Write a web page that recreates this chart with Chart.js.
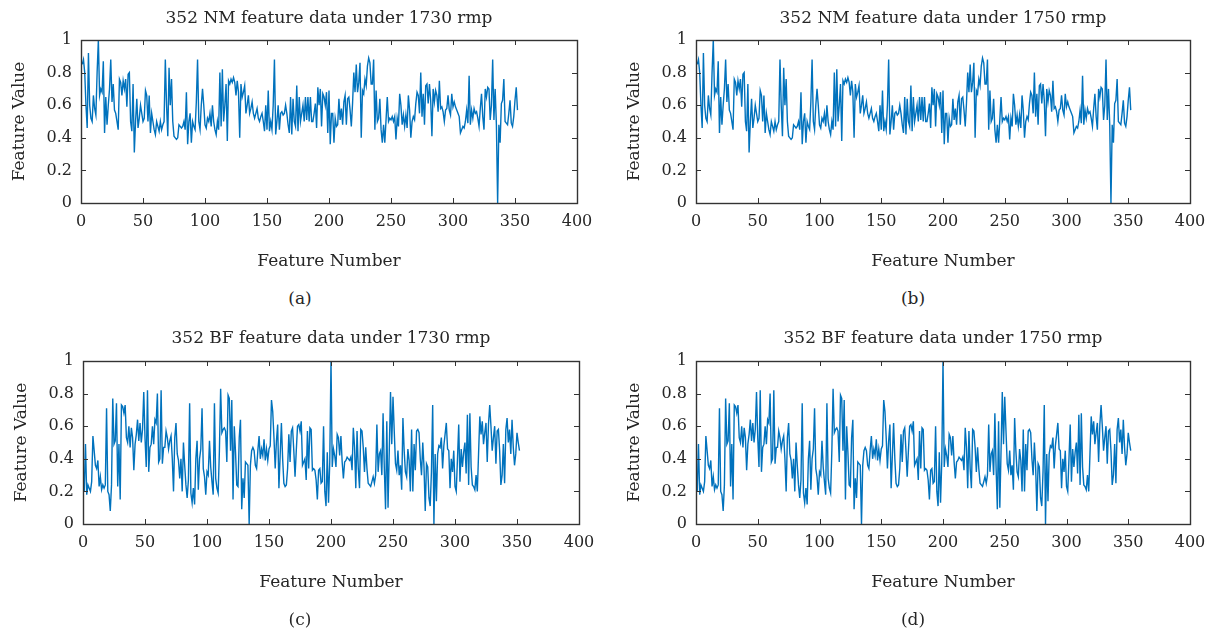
<!DOCTYPE html>
<html>
<head>
<meta charset="utf-8">
<script src="https://cdn.jsdelivr.net/npm/chart.js@4.4.1/dist/chart.umd.min.js"></script>
<style>
  body { margin: 0; background: #fff; }
  #wrap { position: relative; width: 1218px; height: 641px; }
  canvas { position: absolute; }
  .cap { position: absolute; width: 60px; margin-left: -30px; text-align: center;
         font-family: 'DejaVu Serif', serif; font-size: 17px; color: #262626; line-height: 20px; }
</style>
</head>
<body>
<div id="wrap">
  <canvas id="chartA" width="609" height="285" style="left:0;top:0"></canvas>
  <canvas id="chartB" width="609" height="285" style="left:609px;top:0"></canvas>
  <canvas id="chartC" width="609" height="290" style="left:0;top:320px"></canvas>
  <canvas id="chartD" width="609" height="290" style="left:609px;top:320px"></canvas>
  <div class="cap" style="left:300px;top:288px">(a)</div>
  <div class="cap" style="left:913px;top:288px">(b)</div>
  <div class="cap" style="left:300px;top:609px">(c)</div>
  <div class="cap" style="left:913px;top:609px">(d)</div>
</div>
<script>
// values, feature 1..352
var nm1730 = [
  0.85,0.88,0.8,0.6,0.46,0.92,0.6,0.52,0.5,0.66,
  0.58,0.54,0.8,1.0,0.66,0.7,0.68,0.87,0.43,0.65,
  0.48,0.6,0.7,0.88,0.62,0.73,0.57,0.55,0.5,0.45,
  0.76,0.74,0.66,0.75,0.7,0.76,0.59,0.79,0.8,0.5,
  0.44,0.73,0.31,0.5,0.64,0.46,0.52,0.6,0.55,0.5,
  0.52,0.69,0.66,0.5,0.66,0.43,0.55,0.5,0.45,0.42,
  0.5,0.47,0.44,0.5,0.45,0.48,0.5,0.88,0.6,0.41,
  0.83,0.6,0.76,0.5,0.41,0.4,0.39,0.4,0.48,0.47,
  0.46,0.47,0.5,0.45,0.68,0.36,0.5,0.55,0.37,0.5,
  0.47,0.45,0.62,0.88,0.5,0.45,0.6,0.7,0.6,0.48,
  0.46,0.52,0.5,0.55,0.47,0.6,0.5,0.45,0.42,0.5,
  0.45,0.8,0.47,0.82,0.5,0.6,0.73,0.38,0.75,0.73,
  0.76,0.74,0.77,0.74,0.66,0.75,0.68,0.4,0.73,0.65,
  0.68,0.72,0.55,0.6,0.66,0.55,0.58,0.62,0.55,0.52,
  0.55,0.58,0.52,0.5,0.53,0.55,0.5,0.44,0.6,0.45,
  0.69,0.44,0.5,0.45,0.6,0.88,0.42,0.5,0.6,0.45,
  0.55,0.56,0.54,0.55,0.6,0.55,0.48,0.43,0.65,0.42,
  0.64,0.5,0.47,0.72,0.44,0.65,0.5,0.55,0.6,0.5,
  0.65,
  0.51,0.65,0.5,0.65,0.5,0.5,0.55,0.61,0.46,0.71,
  0.6,0.7,0.47,0.67,0.65,0.6,0.68,0.43,0.69,0.36,
  0.55,0.55,0.37,0.52,0.47,0.48,0.64,0.51,0.58,0.48,
  0.62,0.66,0.48,0.64,0.65,0.57,0.47,0.61,0.8,0.68,
  0.85,0.68,0.74,0.86,0.4,0.69,0.67,0.76,0.72,0.84,
  0.89,0.86,0.73,0.73,0.88,0.45,0.69,0.5,0.52,0.64,
  0.45,0.37,0.48,0.37,0.51,0.65,0.5,0.52,0.51,0.53,
  0.5,0.53,0.39,0.52,0.47,0.67,0.6,0.48,0.54,0.47,
  0.54,0.46,0.66,0.57,0.4,0.5,0.53,0.51,0.61,0.68,
  0.66,0.55,
  0.8,0.53,0.67,0.48,0.72,0.73,0.61,0.73,0.63,0.41,
  0.7,0.62,0.69,0.66,0.56,0.75,0.58,0.59,0.56,0.5,
  0.57,0.58,0.66,0.57,0.54,0.67,0.59,0.62,0.59,0.57,
  0.55,0.53,0.43,0.45,0.47,0.46,0.5,0.57,0.49,0.78,
  0.48,0.57,0.52,0.58,0.55,0.56,0.52,0.47,0.58,0.67,
  0.53,0.45,0.7,0.65,0.71,0.7,0.51,0.6,0.88,0.51,
  0.7,0.48,0.0,0.48,0.37,0.61,0.63,0.76,0.5,0.49,
  0.48,0.55,0.63,0.49,0.47,0.53,0.63,0.71,0.57
];
// (b) looks the same as (a)
var nm1750 = nm1730.slice();

var bf1730 = [
  0.2,0.49,0.18,0.24,0.22,0.2,0.26,0.54,0.45,0.36,
  0.34,0.39,0.23,0.29,0.21,0.24,0.22,0.24,0.71,0.2,
  0.18,0.08,0.24,0.77,0.49,0.51,0.74,0.23,0.49,0.15,
  0.73,0.72,0.68,0.73,0.53,0.5,0.6,0.47,0.59,0.53,
  0.33,0.49,0.55,0.64,0.51,0.62,0.5,0.58,0.81,0.53,
  0.35,0.82,0.32,0.47,0.49,0.6,0.49,0.64,0.62,0.8,
  0.38,0.4,0.82,0.37,0.47,0.47,0.57,0.53,0.46,0.51,
  0.54,0.4,0.2,0.53,0.62,0.43,0.39,0.28,0.4,0.2,
  0.5,0.36,0.24,0.16,0.27,0.74,0.19,0.13,0.22,0.12,
  0.4,0.51,
  0.21,0.4,0.46,0.71,0.34,0.29,0.18,0.32,0.3,0.51,
  0.35,0.26,0.18,0.74,0.28,0.22,0.19,0.45,0.83,0.56,
  0.58,0.59,0.57,0.38,0.79,0.77,0.45,0.76,0.15,0.6,
  0.44,0.24,0.23,0.53,0.64,0.09,0.28,0.16,0.38,0.37,
  0.36,0.0,0.36,0.45,0.47,0.45,0.36,0.34,0.45,0.54,
  0.4,0.46,0.42,0.52,0.39,0.46,0.39,0.46,0.48,0.76,
  0.69,0.53,0.34,0.51,0.61,0.22,0.42,0.62,0.4,0.25,
  0.23,0.24,0.34,0.55,0.38,0.57,0.59,0.45,0.29,0.45,
  0.6,0.61,0.57,0.63,0.36,0.38,0.4,
  0.27,0.57,0.34,0.59,0.58,0.33,0.34,0.33,0.27,0.15,
  0.33,0.34,0.25,0.26,0.6,0.2,0.11,0.44,0.13,0.38,
  1.0,0.35,0.46,0.42,0.35,0.55,0.53,0.42,0.54,0.38,
  0.28,0.38,0.39,0.41,0.4,0.39,0.41,0.33,0.59,0.47,
  0.22,0.57,0.34,0.22,0.58,0.57,0.47,0.32,0.47,0.34,
  0.25,0.24,0.23,0.26,0.29,0.25,0.3,0.61,0.32,0.43,
  0.45,0.3,0.68,0.34,0.09,0.63,0.1,0.45,0.81,0.49,
  0.78,0.57,0.37,0.33,0.45,0.3,0.36,0.21,0.65,0.45,
  0.32,0.29,0.46,0.39,0.2,0.58,0.2,0.49,0.33,0.57,
  0.58,0.56,0.4,0.3,0.5,0.35,0.08,
  0.37,0.35,0.16,0.11,0.32,0.73,0.0,0.43,0.14,0.43,
  0.48,0.47,0.53,0.34,0.48,0.55,0.62,0.46,0.45,0.22,
  0.4,0.32,0.45,0.23,0.2,0.4,0.61,0.26,0.46,0.35,
  0.44,0.5,0.31,0.67,0.24,0.68,0.35,0.24,0.23,0.21,
  0.3,0.2,0.43,0.66,0.55,0.63,0.49,0.56,0.62,0.38,
  0.61,0.73,0.6,0.45,0.53,0.6,0.37,0.57,0.58,0.45,
  0.24,0.3,0.49,0.25,0.58,0.65,0.5,0.58,0.43,0.64,
  0.47,0.36,0.43,0.56,0.5,0.45
];
// (d) looks the same as (c)
var bf1750 = bf1730.slice();

var yTickLabels = ['0', '0.2', '0.4', '0.6', '0.8', '1'];
var titles = [
  '352 NM feature data under 1730 rmp',
  '352 NM feature data under 1750 rmp',
  '352 BF feature data under 1730 rmp',
  '352 BF feature data under 1750 rmp'
];

Chart.defaults.font.family = "'DejaVu Serif', serif";
Chart.defaults.font.size = 16;
Chart.defaults.color = '#262626';

// MATLAB style box with inward ticks
var boxTicks = {
  id: 'boxTicks',
  afterDraw: function(chart) {
    var ctx = chart.ctx;
    var a = chart.chartArea;
    var xs = chart.scales.x;
    var ys = chart.scales.y;
    ctx.save();
    ctx.strokeStyle = '#333333';
    ctx.lineWidth = 1;
    ctx.beginPath();
    xs.ticks.forEach(function(t) {
      var px = Math.round(xs.getPixelForValue(t.value)) + 0.5;
      ctx.moveTo(px, a.bottom); ctx.lineTo(px, a.bottom - 5);
      ctx.moveTo(px, a.top); ctx.lineTo(px, a.top + 5);
    });
    ys.ticks.forEach(function(t) {
      var py = Math.round(ys.getPixelForValue(t.value)) + 0.5;
      ctx.moveTo(a.left, py); ctx.lineTo(a.left + 5, py);
      ctx.moveTo(a.right, py); ctx.lineTo(a.right - 5, py);
    });
    ctx.stroke();
    ctx.lineWidth = 1.4;
    ctx.strokeRect(Math.round(a.left) + 0.5, Math.round(a.top) + 0.5,
                   Math.round(a.right - a.left), Math.round(a.bottom - a.top));
    ctx.restore();
  }
};

function makePanel(id, title, values, box) {
  var points = values.map(function(v, i) { return { x: i + 1, y: v }; });
  new Chart(document.getElementById(id), {
    type: 'line',
    data: {
      datasets: [{
        data: points,
        borderColor: '#0072BD',
        borderWidth: 1.4,
        pointRadius: 0,
        tension: 0,
        fill: false
      }]
    },
    options: {
      responsive: false,
      animation: false,
      events: [],
      layout: { padding: { left: 0, top: box.top, right: box.right, bottom: box.bottom } },
      plugins: {
        legend: { display: false },
        tooltip: { enabled: false },
        title: {
          display: true,
          text: title,
          fullSize: false,
          font: { size: 17, weight: 'normal' },
          color: '#262626',
          padding: { top: 0, bottom: box.titleGap }
        }
      },
      scales: {
        x: {
          type: 'linear',
          min: 0,
          max: 400,
          ticks: { stepSize: 50, padding: 9, maxRotation: 0 },
          grid: { display: false, drawTicks: false },
          border: { display: false },
          title: { display: true, text: 'Feature Number', font: { size: 17 }, padding: { top: 0, bottom: 3 } },
          afterFit: function(s) { s.height = 72; }
        },
        y: {
          min: 0,
          max: 1,
          ticks: {
            stepSize: 0.2,
            padding: 9,
            callback: function(v, i) { return yTickLabels[i]; }
          },
          grid: { display: false, drawTicks: false },
          border: { display: false },
          title: { display: true, text: 'Feature Value', font: { size: 17 }, padding: { top: box.yTitle, bottom: 0 } },
          afterFit: function(s) { s.width = box.left; }
        }
      }
    },
    plugins: [boxTicks]
  });
}

makePanel('chartA', titles[0], nm1730, { left: 81, right: 32, top: 8, bottom: 10, titleGap: 11.6, yTitle: 9 });
makePanel('chartB', titles[1], nm1750, { left: 87, right: 28, top: 8, bottom: 10, titleGap: 11.6, yTitle: 15 });
makePanel('chartC', titles[2], bf1730, { left: 83, right: 30, top: 8, bottom: 14, titleGap: 12.6, yTitle: 11 });
makePanel('chartD', titles[3], bf1750, { left: 87, right: 28, top: 8, bottom: 14, titleGap: 12.6, yTitle: 15 });
</script>
</body>
</html>
